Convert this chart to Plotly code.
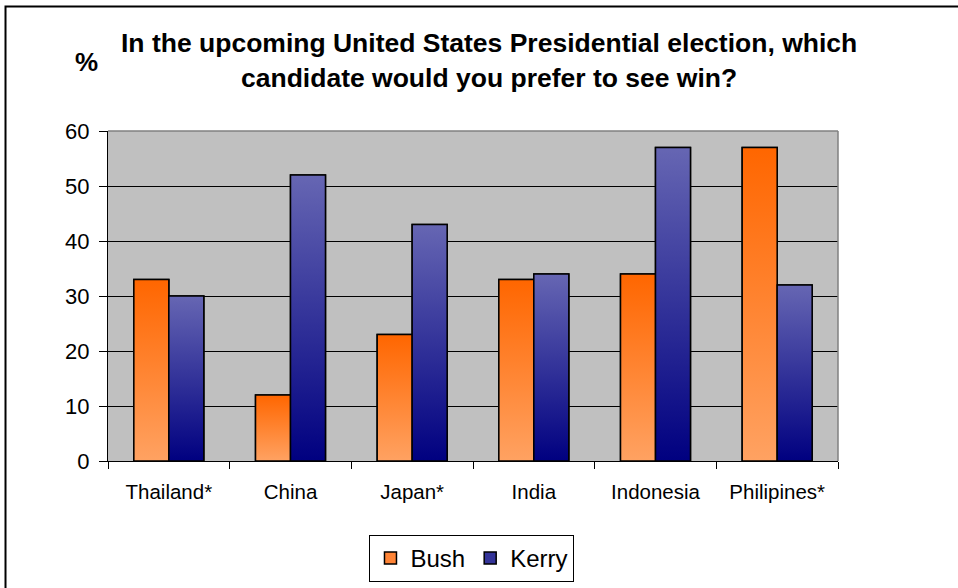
import plotly.graph_objects as go

categories = ["Thailand*", "China", "Japan*", "India", "Indonesia", "Philipines*"]
bush = [33, 12, 23, 33, 34, 57]
kerry = [30, 52, 43, 34, 57, 32]
y_ticks = [0, 10, 20, 30, 40, 50, 60]

title_line1 = "In the upcoming United States Presidential election, which"
title_line2 = "candidate would you prefer to see win?"

FONT = "Arial, Liberation Sans, sans-serif"
BAR_W = 0.2875
# name, values, bottom colour, top colour, legend colour, side offset
series = [
    ("Bush", bush, "#FFA262", "#FF6600", "#FF8436", -1),
    ("Kerry", kerry, "#000080", "#6666B3", "#343499", 0),
]

fig = go.Figure()
xs = list(range(len(categories)))
for name, vals, c_bot, c_top, c_leg, side in series:
    fig.add_bar(x=xs, y=vals, width=BAR_W, offset=side * BAR_W,
                marker=dict(color=c_leg, line=dict(color="black", width=1.5)),
                showlegend=True, hoverinfo="skip", name=name)

for name, vals, c_bot, c_top, c_leg, side in series:
    for i, v in enumerate(vals):
        x0 = i + side * BAR_W
        x1 = x0 + BAR_W
        fig.add_scatter(
            x=[x0, x1, x1, x0, x0], y=[0, 0, v, v, 0], mode="lines", fill="toself",
            fillgradient=dict(type="vertical", colorscale=[[0, c_bot], [1, c_top]]),
            line=dict(color="black", width=1.5),
            name=name, showlegend=False, hoverinfo="skip")

fig.update_layout(
    width=958, height=588,
    margin=dict(l=108, r=120, t=131, b=127, autoexpand=False),
    paper_bgcolor="white", plot_bgcolor="#C0C0C0",
    font=dict(family=FONT, color="black", size=20),
    showlegend=True,
    legend=dict(orientation="h", x=0.4986, xanchor="center", y=-0.224, yanchor="top",
                bordercolor="black", borderwidth=1, bgcolor="white",
                font=dict(size=24), itemwidth=30, traceorder="normal"),
    xaxis=dict(range=[-0.5, 5.5], tickmode="array", tickvals=xs, ticktext=categories,
               ticks="outside", ticklen=12, tickcolor="rgba(0,0,0,0)",
               showgrid=False, zeroline=False, showline=True, linecolor="black", linewidth=1,
               tickfont=dict(size=20.5),
               minor=dict(tickvals=[k - 0.5 for k in range(len(categories) + 1)],
                          ticks="outside", ticklen=7, tickcolor="black", tickwidth=1, showgrid=False)),
    yaxis=dict(range=[0, 60], tickmode="array", tickvals=y_ticks,
               ticks="outside", ticklen=8, tickcolor="black", tickwidth=1,
               ticklabelstandoff=5,
               showgrid=True, gridcolor="black", gridwidth=1, zeroline=False,
               showline=True, linecolor="black", linewidth=1, tickfont=dict(size=22)),
    annotations=[
        dict(text="<b>" + title_line1 + "</b>", xref="paper", yref="paper", x=0.522, y=1.2667,
             showarrow=False, font=dict(size=26.5), xanchor="center", yanchor="middle"),
        dict(text="<b>" + title_line2 + "</b>", xref="paper", yref="paper", x=0.522, y=1.1606,
             showarrow=False, font=dict(size=26.5), xanchor="center", yanchor="middle"),
        dict(text="<b>%</b>", xref="paper", yref="paper", x=-0.0288, y=1.209,
             showarrow=False, font=dict(size=26), xanchor="center", yanchor="middle"),
    ],
    shapes=[
        # plot area top and right border (grey)
        dict(type="line", xref="paper", yref="paper", x0=0, x1=1, y0=1, y1=1,
             line=dict(color="#808080", width=1.5), layer="above"),
        dict(type="line", xref="paper", yref="paper", x0=1, x1=1, y0=0, y1=1,
             line=dict(color="#808080", width=1.5), layer="above"),
        # outer chart border
        dict(type="rect", xref="paper", yref="paper", x0=-0.1404, x1=1.25, y0=-0.5, y1=1.377,
             line=dict(color="black", width=2), fillcolor="rgba(0,0,0,0)", layer="above"),
    ],
)

fig.write_html("out.html", config={"displayModeBar": False},
               post_script="document.body.style.margin='0px';")
